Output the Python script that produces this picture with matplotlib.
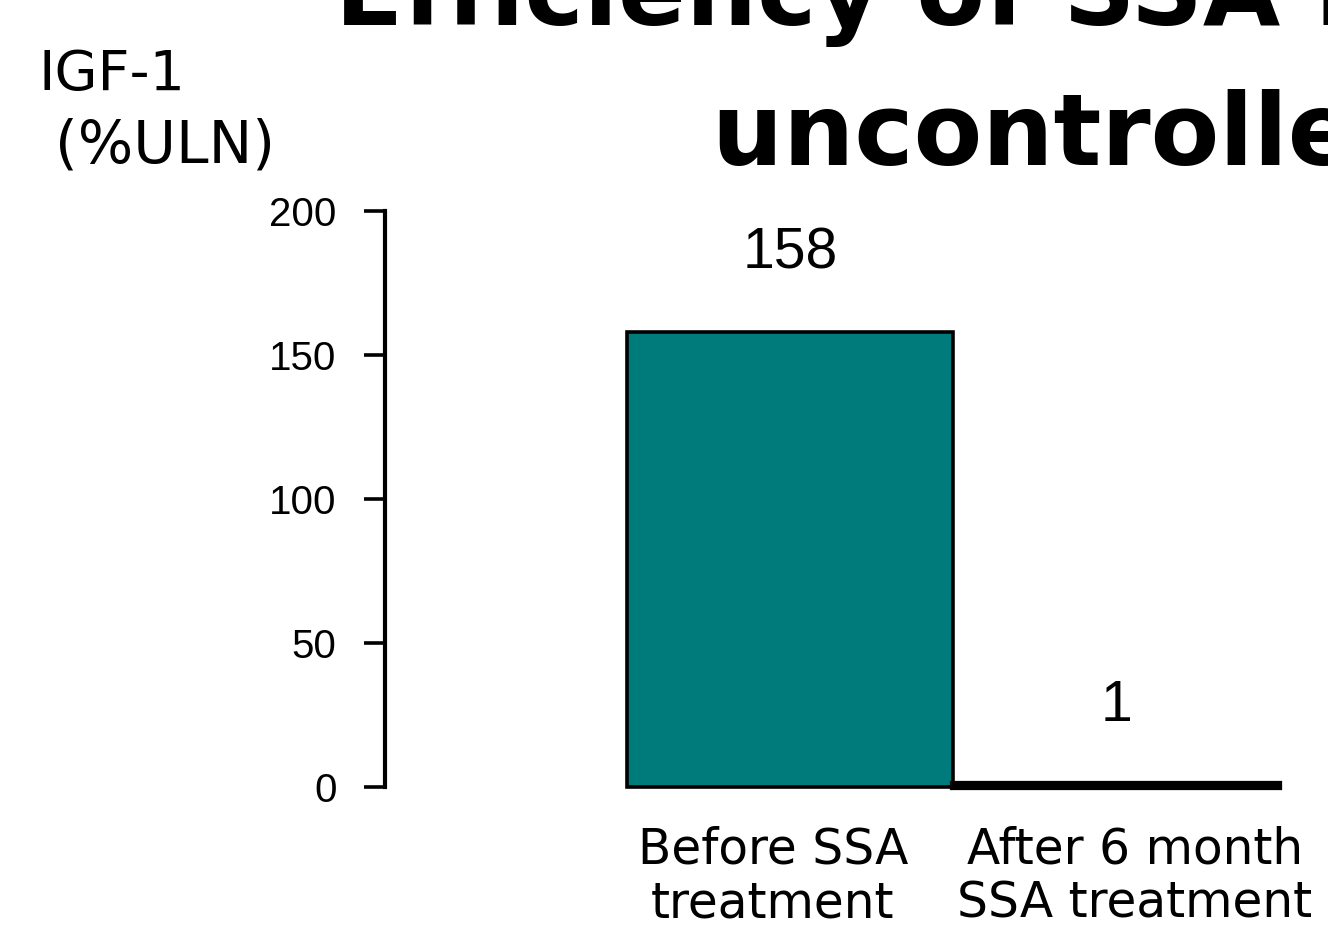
import matplotlib
matplotlib.use("Agg")
import matplotlib.pyplot as plt
import matplotlib.transforms as mtransforms

# values
categories = ["Before SSA\ntreatment", "After 6 month\nSSA treatment"]
igf1_uln = [158, 1]
y_ticks = [0, 50, 100, 150, 200]

BAR_COLOR = "#007b7b"
W, H = 1328, 927

fig = plt.figure(figsize=(W / 100, H / 100), dpi=100)
fig.patch.set_facecolor("white")

# axes placed in pixel terms of the slide crop
ax_left, ax_right = 385, 1328
ax_top, ax_bottom = 211, 787
ax = fig.add_axes([ax_left / W, 1 - ax_bottom / H,
                   (ax_right - ax_left) / W, (ax_bottom - ax_top) / H])

x = list(range(len(igf1_uln)))
bars = ax.bar(x, igf1_uln, width=1.0, color=BAR_COLOR, edgecolor="black",
              linewidth=[2.6, 4.5], clip_on=False, zorder=3)

for xi, v in zip(x, igf1_uln):
    ax.annotate(str(v), (xi, v), xytext=(0, 37), textcoords="offset points",
                ha="center", va="bottom", fontsize=41,
                family="Liberation Sans")

ax.set_ylim(0, 200)
ax.set_xlim(-1.242, 1.650)
ax.set_yticks(y_ticks)
ax.set_yticklabels([str(t) for t in y_ticks], family="Liberation Sans",
                   fontsize=29)
ax.tick_params(axis="y", direction="out", length=15, width=2.6, pad=20)

ax.set_xticks(x)
ax.set_xticklabels(categories, fontsize=35, family="DejaVu Sans",
                   linespacing=1.15)
ax.tick_params(axis="x", length=0, pad=28)
# nudge the two captions apart a little, as on the slide
for lbl, dx in zip(ax.get_xticklabels(), [-0.17, 0.19]):
    shift = mtransforms.ScaledTranslation(dx, 0, fig.dpi_scale_trans)
    lbl.set_transform(lbl.get_transform() + shift)

for side in ["top", "right", "bottom"]:
    ax.spines[side].set_visible(False)
ax.spines["left"].set_linewidth(3.0)
ax.patch.set_alpha(0)

# y-axis caption in the top left corner
fig.text(38 / W, 1 - 90 / H, "IGF-1", fontsize=40, ha="left", va="baseline")
fig.text(55 / W, 1 - 163 / H, "(%ULN)", fontsize=42, ha="left", va="baseline")

# slide title, clipped by the crop
fig.text(335 / W, 1 - 25 / H, "Efficiency of SSA in", fontsize=72,
         weight="bold", ha="left", va="baseline")
fig.text(712 / W, 1 - 165 / H, "uncontrolled acromegaly", fontsize=72,
         weight="bold", ha="left", va="baseline")

fig.savefig("out.png", dpi=100, facecolor=fig.get_facecolor())
